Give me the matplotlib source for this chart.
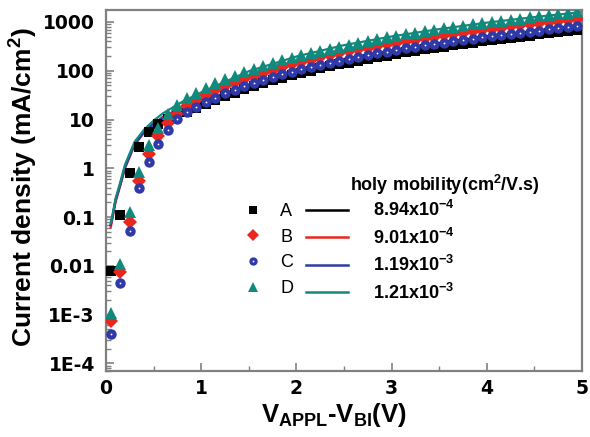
import matplotlib
matplotlib.use("Agg")
import matplotlib.pyplot as plt
from matplotlib.lines import Line2D
from matplotlib.ticker import LogLocator, NullFormatter, MultipleLocator

plt.rcParams['font.family'] = ['Liberation Sans', 'DejaVu Sans']
plt.rcParams['mathtext.fontset'] = 'custom'
plt.rcParams['mathtext.rm'] = 'Liberation Sans:bold'
plt.rcParams['mathtext.bf'] = 'Liberation Sans:bold'
plt.rcParams['mathtext.it'] = 'Liberation Sans:bold'
plt.rcParams['mathtext.default'] = 'bf'

# ---------------- data ----------------
voltage = [0.05, 0.15, 0.25, 0.35, 0.45, 0.55, 0.65, 0.75, 0.85, 0.95,
           1.05, 1.15, 1.25, 1.35, 1.45, 1.55, 1.65, 1.75, 1.85, 1.95,
           2.05, 2.15, 2.25, 2.35, 2.45, 2.55, 2.65, 2.75, 2.85, 2.95,
           3.05, 3.15, 3.25, 3.35, 3.45, 3.55, 3.65, 3.75, 3.85, 3.95,
           4.05, 4.15, 4.25, 4.35, 4.45, 4.55, 4.65, 4.75, 4.85, 4.95]

series_A = [0.008, 0.11, 0.8, 2.7, 5.6, 8.0, 10.2, 12.4, 14.6, 17.0,
            20.5, 25.0, 30.0, 35.6, 41.8, 48.5, 55.8, 63.6, 72.0, 81.0,
            90.6, 100.8, 111.6, 123.0, 135.0, 147.6, 160.9, 174.8, 189.4, 204.7,
            221.0, 238.0, 255.7, 274.2, 293.4, 313.3, 334.1, 355.3, 377.7, 400.7,
            424.2, 448.6, 474.0, 499.8, 527.0, 554.5, 583.1, 612.3, 642.3, 673.2]

series_B = [0.00074, 0.0075, 0.078, 0.55, 2.0, 4.5, 8.5, 13.0, 19.0, 25.5,
            32.5, 40.0, 48.5, 57.8, 68.2, 79.5, 91.8, 105.0, 119.4, 134.7,
            151.1, 168.7, 187.2, 206.9, 227.8, 249.7, 272.9, 297.3, 322.5, 349.2,
            377.0, 406.0, 436.2, 467.8, 500.5, 534.5, 569.9, 606.1, 644.4, 683.5,
            723.6, 765.3, 808.5, 852.6, 899.0, 946.0, 994.7, 1044.6, 1095.6, 1148.4]

series_C = [0.00041, 0.0045, 0.052, 0.40, 1.37, 3.2, 6.2, 10.3, 14.5, 18.2,
            22.9, 28.3, 34.3, 40.9, 48.2, 56.2, 64.9, 74.3, 84.4, 95.2,
            106.8, 119.2, 132.3, 146.3, 161.0, 176.5, 192.9, 210.1, 228.0, 246.8,
            266.5, 287.0, 308.3, 330.7, 353.8, 377.8, 402.8, 428.5, 455.5, 483.2,
            511.5, 541.0, 571.5, 602.7, 635.5, 668.7, 703.2, 738.4, 774.5, 811.8]

series_D = [0.0011, 0.011, 0.125, 0.85, 3.0, 6.8, 13.0, 20.0, 28.0, 35.0,
            44.8, 55.2, 66.8, 79.8, 94.0, 109.6, 126.6, 144.9, 164.6, 185.8,
            208.5, 232.7, 258.2, 285.4, 314.2, 344.4, 376.4, 410.0, 444.8, 481.6,
            520.0, 560.0, 601.6, 645.2, 690.4, 737.2, 786.0, 836.0, 888.8, 942.8,
            998.0, 1055.6, 1115.2, 1176.0, 1240.0, 1304.8, 1372.0, 1440.8, 1511.2, 1584.0]

fit_voltage = [0.05, 0.075, 0.1, 0.15, 0.2, 0.3, 0.4, 0.5, 0.6, 0.8, 1.0,
               1.5, 2.0, 2.5, 3.0, 3.5, 4.0, 4.5, 5.0]
fit_A = [0.068, 0.12, 0.22, 0.48, 1.1, 3.2, 5.6, 8.2, 11.0, 16.5, 22.0,
         46.0, 90.0, 148.0, 215.0, 305.0, 410.0, 535.0, 680.0]
fit_B = [0.062, 0.11, 0.20, 0.44, 1.0, 3.0, 5.4, 8.0, 11.5, 18.0, 27.0,
         72.0, 142.0, 240.0, 365.0, 520.0, 705.0, 920.0, 1160.0]
fit_C = [0.070, 0.12, 0.22, 0.46, 1.05, 3.1, 5.5, 8.0, 11.0, 17.0, 24.0,
         52.0, 100.0, 175.0, 260.0, 370.0, 505.0, 655.0, 820.0]
fit_D = [0.075, 0.13, 0.24, 0.52, 1.2, 3.5, 6.2, 9.5, 13.5, 23.0, 36.0,
         98.0, 196.0, 335.0, 505.0, 715.0, 970.0, 1260.0, 1600.0]

sample_labels = ['A', 'B', 'C', 'D']
mobility_labels = [r'8.94x10$^{-4}$', r'9.01x10$^{-4}$', r'1.19x10$^{-3}$', r'1.21x10$^{-3}$']
ytick_values = [1e-4, 1e-3, 1e-2, 1e-1, 1, 10, 100, 1000]
ytick_labels = ['1E-4', '1E-3', '0.01', '0.1', '1', '10', '100', '1000']
xtick_values = [0, 1, 2, 3, 4, 5]

colors = ['#000000', '#e8271f', '#2f3aa8', '#12897d']
markers = ['s', 'D', 'o', '^']
msizes = [7.0, 6.8, 7.5, 8.5]

# ---------------- figure ----------------
fig = plt.figure(figsize=(5.90, 4.37), dpi=100)
ax = fig.add_axes([106/590, 1 - 371/437, (582-106)/590, (371-10)/437])
ax.set_yscale('log')
ax.set_xlim(0, 5)
ax.set_ylim(7.0e-5, 1761)

fits = [fit_A, fit_B, fit_C, fit_D]
data = [series_A, series_B, series_C, series_D]

for f, c in zip(fits, colors):
    ax.plot(fit_voltage, f, color=c, lw=1.6, zorder=2)

for d, c, m, s in zip(data, colors, markers, msizes):
    ax.plot(voltage, d, linestyle='none', marker=m, color=c, markersize=s,
            markeredgewidth=0, zorder=3)
# white highlight inside the blue spheres
ax.plot(voltage, series_C, linestyle='none', marker='o', color='white',
        markersize=1.3, markeredgewidth=0, zorder=3.5)

grey = '#808080'
for sp in ax.spines.values():
    sp.set_color(grey)
    sp.set_linewidth(1.6)

ax.set_yticks(ytick_values)
ax.set_yticklabels(ytick_labels)
ax.yaxis.set_minor_locator(LogLocator(base=10, subs=range(2, 10), numticks=20))
ax.yaxis.set_minor_formatter(NullFormatter())
ax.set_xticks(xtick_values)
ax.xaxis.set_minor_locator(MultipleLocator(0.5))
ax.tick_params(which='both', direction='in', color=grey, top=False, right=False)
ax.tick_params(which='major', length=6, width=1.2, labelsize=13.5)
ax.tick_params(axis='y', which='major', pad=8)
ax.tick_params(axis='x', which='major', pad=6)
ax.tick_params(which='minor', length=3.5, width=1.0)
for lab in ax.get_xticklabels() + ax.get_yticklabels():
    lab.set_fontweight('bold')
    lab.set_family(['DejaVu Sans'])

ax.set_ylabel('Current density (mA/cm$^2$)', fontsize=19, fontweight='bold')
ax.yaxis.set_label_coords(-0.139, 0.51)
ax.set_xlabel(r'V$_{APPL}$-V$_{BI}$(V)', fontsize=18.5, fontweight='bold')
ax.xaxis.set_label_coords(0.479, -0.082)

# ---------------- legends ----------------
circle_handle = (Line2D([], [], linestyle='none', marker='o', color=colors[2], markersize=6,
                        markeredgewidth=0),
                 Line2D([], [], linestyle='none', marker='o', color='white', markersize=1.3,
                        markeredgewidth=0))
marker_handles = [Line2D([], [], linestyle='none', marker=markers[0], color=colors[0],
                         markersize=5.5, markeredgewidth=0),
                  Line2D([], [], linestyle='none', marker=markers[1], color=colors[1],
                         markersize=6.5, markeredgewidth=0),
                  circle_handle,
                  Line2D([], [], linestyle='none', marker=markers[3], color=colors[3],
                         markersize=7, markeredgewidth=0)]
leg1 = ax.legend(marker_handles, sample_labels, loc='upper left',
                 bbox_to_anchor=(244/590, 1 - 203/437), bbox_transform=fig.transFigure,
                 frameon=False, fontsize=13, handlelength=1.0, handletextpad=1.0,
                 labelspacing=0.48, borderpad=0, borderaxespad=0)
ax.add_artist(leg1)
line_handles = [Line2D([], [], color=c, lw=1.8) for c in colors]
leg2 = ax.legend(line_handles, mobility_labels, loc='upper left',
                 bbox_to_anchor=(306/590, 1 - 200/437), bbox_transform=fig.transFigure,
                 frameon=False, fontsize=13, handlelength=2.33, handletextpad=1.38,
                 labelspacing=0.41, borderpad=0, borderaxespad=0)
for t in leg2.get_texts():
    t.set_fontweight('bold')
fig.text(350/590, 1 - 185/437, 'holy mobility(cm$^2$/V.s)', fontsize=13,
         fontweight='bold', ha='left', va='center')

fig.savefig('out.png', dpi=100)
